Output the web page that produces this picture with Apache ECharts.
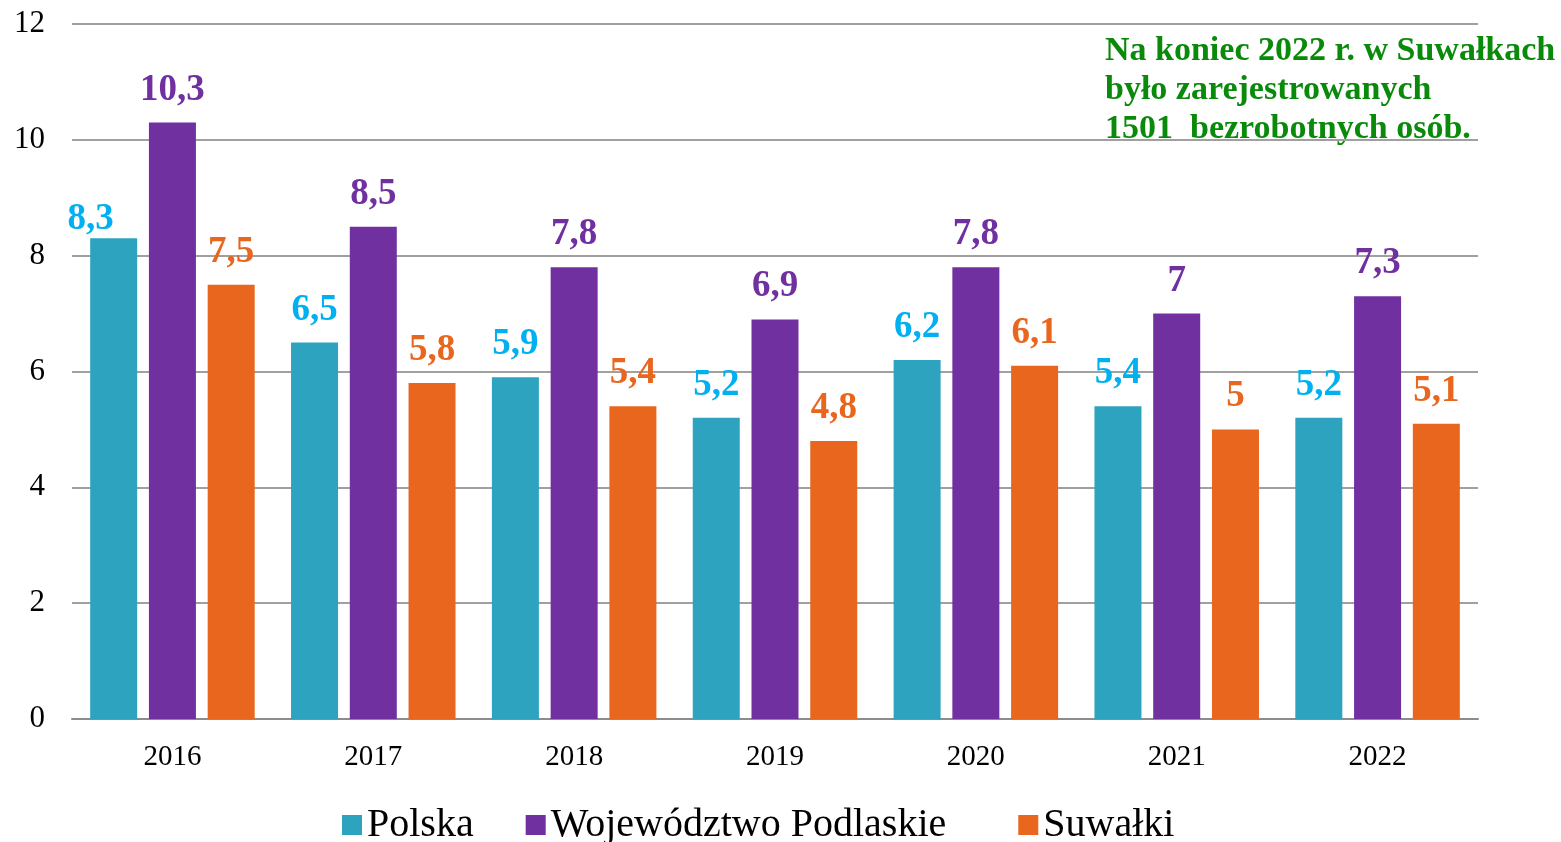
<!DOCTYPE html>
<html>
<head>
<meta charset="utf-8">
<script src="https://cdn.jsdelivr.net/npm/echarts@6/dist/echarts.min.js"></script>
<style>
  html, body { margin: 0; padding: 0; background: #fff; }
  #main { width: 1561px; height: 842px; }
</style>
</head>
<body>
<div id="main"></div>
<script>
// lata
var years = ['2016', '2017', '2018', '2019', '2020', '2021', '2022'];
// stopa bezrobocia (%)
var polska = [8.3, 6.5, 5.9, 5.2, 6.2, 5.4, 5.2];
var podlaskie = [10.3, 8.5, 7.8, 6.9, 7.8, 7, 7.3];
var suwalki = [7.5, 5.8, 5.4, 4.8, 6.1, 5, 5.1];
var seriesNames = ['Polska', 'Województwo Podlaskie', 'Suwałki'];
var note = 'Na koniec 2022 r. w Suwałkach\nbyło zarejestrowanych\n1501  bezrobotnych osób.';

var FONT = '"Liberation Serif", "DejaVu Serif", serif';

function fmt(p) {
    return String(p.value).replace('.', ',');
}

function makeSeries(name, data, barColor, labelColor) {
    return {
        name: name,
        type: 'bar',
        data: data,
        barWidth: 47,
        barGap: '25%',
        itemStyle: { color: barColor },
        label: {
            show: true,
            position: 'top',
            distance: 14,
            formatter: fmt,
            color: labelColor,
            fontFamily: FONT,
            fontWeight: 'bold',
            fontSize: 37
        }
    };
}

var s1 = makeSeries(seriesNames[0], polska, '#2ea3bf', '#00b0f0');
// etykieta 8,3 w Excelu przesunięta w lewo i niżej
s1.data = polska.map(function (v, i) {
    if (i === 0) return { value: v, label: { distance: 0, offset: [-23, 0] } };
    return v;
});

var myChart = echarts.init(document.getElementById('main'));

var option = {
    backgroundColor: '#ffffff',
    animation: false,
    grid: { left: 72, right: 83, top: 24, bottom: 123, containLabel: false },
    legend: {
        top: 800,
        left: 337,
        itemWidth: 20,
        itemHeight: 20,
        itemGap: 52,
        icon: 'rect',
        textStyle: { fontFamily: FONT, fontSize: 40, color: '#000' },
        formatter: function (name) {
            // szerszy odstęp po drugiej pozycji, jak w oryginale
            return name === seriesNames[1] ? name + '\u00a0\u00a0' : name;
        },
        data: seriesNames
    },
    xAxis: {
        type: 'category',
        data: years,
        axisLine: { lineStyle: { color: '#8c8c8c', width: 2 } },
        axisTick: { show: false },
        axisLabel: { fontFamily: FONT, fontSize: 29, color: '#000', margin: 24 }
    },
    yAxis: {
        type: 'value',
        min: 0,
        max: 12,
        interval: 2,
        axisLine: { show: false },
        axisTick: { show: false },
        axisLabel: { fontFamily: FONT, fontSize: 31, color: '#000', margin: 27 },
        splitLine: { lineStyle: { color: '#a0a0a0', width: 2 } }
    },
    graphic: [{
        type: 'text',
        left: 1105,
        top: 32,
        style: {
            text: note,
            fill: '#0a8a0a',
            font: 'bold 34px ' + FONT,
            lineHeight: 39
        }
    }],
    series: [
        s1,
        makeSeries(seriesNames[1], podlaskie, '#7030a0', '#7030a0'),
        makeSeries(seriesNames[2], suwalki, '#e8661e', '#e8661e')
    ]
};

myChart.setOption(option);
</script>
</body>
</html>
